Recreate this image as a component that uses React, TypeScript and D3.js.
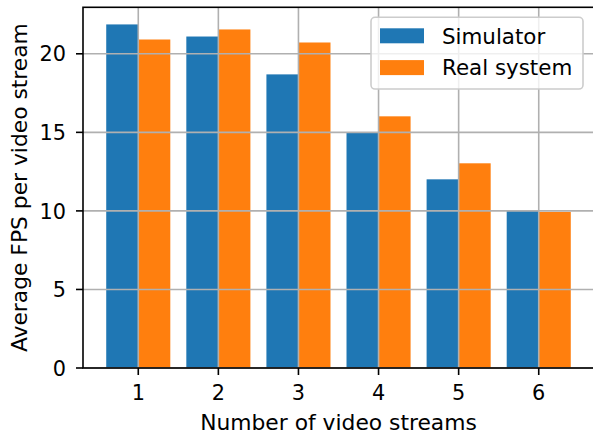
import React from "react";
import * as d3 from "d3";

const categories = [1, 2, 3, 4, 5, 6];
const simulator = [21.87, 21.1, 18.69, 14.96, 12.01, 10.0];
const realSystem = [20.91, 21.55, 20.72, 16.02, 13.03, 9.94];
const yTicks = [0, 5, 10, 15, 20];
const seriesNames = ["Simulator", "Real system"];
const colors = ["#1f77b4", "#ff7f0e"];

const W = 593;
const H = 436;
const L = 83, R = 594, T = 7.3, B = 368;
const FONT = "DejaVu Sans, sans-serif";
const TICK_FS = 20.8;
const LABEL_FS = 21.8;
const LEG_FS = 21.4;

export default function App() {
  const x = d3.scaleLinear().domain([0.31, 6.69]).range([L, R]);
  const y = d3.scaleLinear().domain([0, 22.96]).range([B, T]);
  const bw = 0.4;
  const series = [simulator, realSystem];
  const offsets = [-0.2, 0.2];

  return (
    <svg width={W} height={H} style={{ position: "absolute", left: 0, top: 0, background: "#fff" }}
      fontFamily={FONT}>
      <rect x={0} y={0} width={W} height={H} fill="#fff" />
      {series.map((vals, si) =>
        vals.map((v, i) => {
          const c = categories[i] + offsets[si];
          const x0 = x(c - bw / 2);
          const x1 = x(c + bw / 2);
          return (
            <rect key={`${si}-${i}`} x={x0} y={y(v)} width={x1 - x0} height={y(0) - y(v)} fill={colors[si]} />
          );
        })
      )}
      {/* grid */}
      {categories.map((c) => (
        <line key={`gx${c}`} x1={x(c)} x2={x(c)} y1={T} y2={B} stroke="#b0b0b0" strokeWidth={1.6} />
      ))}
      {yTicks.map((t) => (
        <line key={`gy${t}`} x1={L} x2={R} y1={y(t)} y2={y(t)} stroke="#b0b0b0" strokeWidth={1.6} />
      ))}
      {/* spines */}
      <rect x={L} y={T} width={R - L} height={B - T} fill="none" stroke="#000" strokeWidth={1.6} />
      {/* ticks */}
      {categories.map((c) => (
        <g key={`tx${c}`}>
          <line x1={x(c)} x2={x(c)} y1={B} y2={B + 7} stroke="#000" strokeWidth={1.6} />
          <text x={x(c)} y={400} textAnchor="middle" fontSize={TICK_FS} fill="#000">{c}</text>
        </g>
      ))}
      {yTicks.map((t) => (
        <g key={`ty${t}`}>
          <line x1={L - 7} x2={L} y1={y(t)} y2={y(t)} stroke="#000" strokeWidth={1.6} />
          <text x={66} y={y(t) + 7.6} textAnchor="end" fontSize={TICK_FS} fill="#000">{t}</text>
        </g>
      ))}
      {/* axis labels */}
      <text x={(L + R) / 2} y={430} textAnchor="middle" fontSize={LABEL_FS} fill="#000">Number of video streams</text>
      <text transform={`translate(27,${(T + B) / 2}) rotate(-90)`} textAnchor="middle" fontSize={LABEL_FS} fill="#000">
        Average FPS per video stream
      </text>
      {/* legend */}
      <rect x={371} y={17.3} width={212} height={71.7} rx={4} fill="#fff" fillOpacity={0.8} stroke="#cccccc" strokeWidth={1.6} />
      {seriesNames.map((n, i) => (
        <g key={n}>
          <rect x={380} y={28.3 + i * 31.8} width={44} height={15} fill={colors[i]} />
          <text x={442} y={35.8 + i * 31.8 + 7.8} fontSize={LEG_FS} fill="#000">{n}</text>
        </g>
      ))}
    </svg>
  );
}
